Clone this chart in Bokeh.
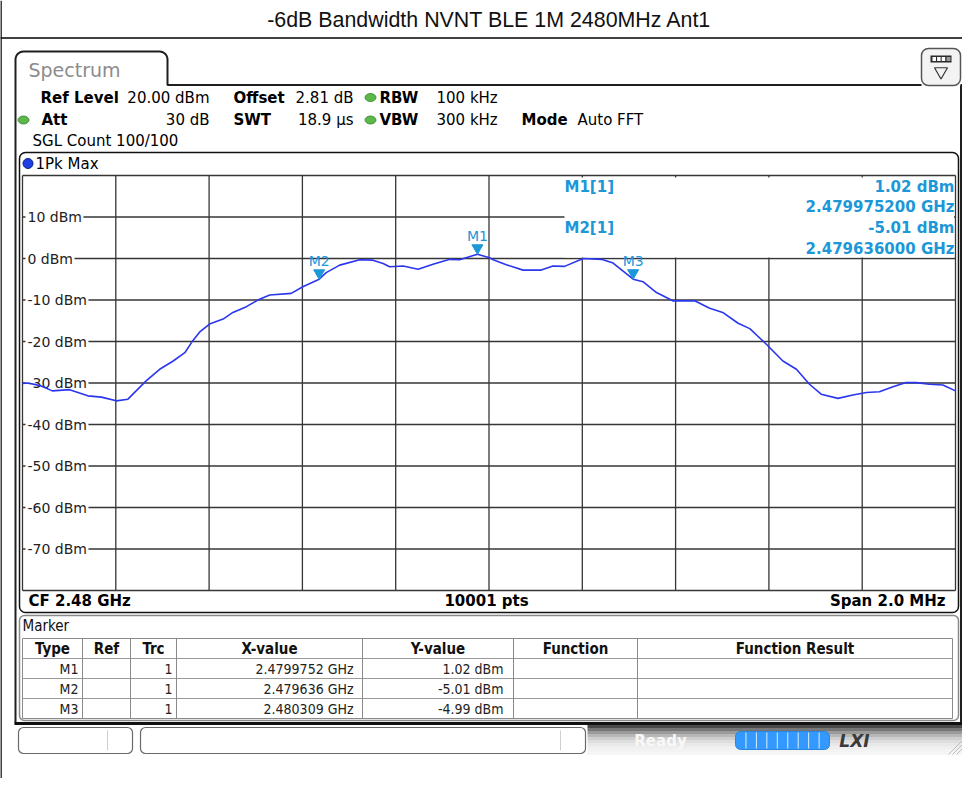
import numpy as np
from bokeh.plotting import figure
from bokeh.models import Range1d
from bokeh.core.properties import value
from bokeh.embed import file_html
from bokeh.resources import INLINE

# ------------------------------------------------------------------ data
chart_title = "-6dB Bandwidth NVNT BLE 1M 2480MHz Ant1"

freq_mhz = [2479.000, 2479.012, 2479.040, 2479.064, 2479.101, 2479.140, 2479.169,
            2479.201, 2479.226, 2479.265, 2479.294, 2479.323, 2479.348, 2479.365,
            2479.380, 2479.401, 2479.430, 2479.451, 2479.480, 2479.508, 2479.530,
            2479.576, 2479.601, 2479.636, 2479.651, 2479.680, 2479.723, 2479.751,
            2479.773, 2479.787, 2479.816, 2479.848, 2479.880, 2479.916, 2479.937,
            2479.9752, 2480.001, 2480.009, 2480.037, 2480.073, 2480.112, 2480.137,
            2480.162, 2480.202, 2480.241, 2480.266, 2480.309, 2480.330, 2480.359,
            2480.394, 2480.441, 2480.473, 2480.501, 2480.534, 2480.559, 2480.594,
            2480.630, 2480.659, 2480.687, 2480.712, 2480.748, 2480.780, 2480.809,
            2480.837, 2480.866, 2480.894, 2480.916, 2480.944, 2480.973, 2481.000]
level_dbm = [-30.1, -30.0, -30.7, -31.9, -31.6, -33.1, -33.4,
             -34.3, -33.9, -29.5, -26.7, -24.7, -22.7, -19.8,
             -17.7, -15.8, -14.6, -13.0, -11.6, -9.8, -8.8,
             -8.4, -6.8, -5.01, -3.4, -1.6, -0.3, -0.4,
             -1.2, -2.0, -1.8, -2.6, -1.4, -0.2, -0.3,
             1.02, 0.2, -0.3, -1.5, -2.8, -2.8, -1.8,
             -1.9, 0.0, -0.2, -1.1, -4.99, -5.6, -8.2,
             -10.2, -10.2, -12.0, -13.0, -15.6, -16.9, -20.6,
             -24.7, -26.7, -30.3, -32.7, -33.7, -32.9, -32.3,
             -32.1, -30.9, -29.9, -29.9, -30.3, -30.5, -31.9]

marker_names = ["M1", "M2", "M3"]
marker_trc = ["1", "1", "1"]
marker_freq_ghz = [2.4799752, 2.479636, 2.480309]
marker_level_dbm = [1.02, -5.01, -4.99]

x_ticks = [2479.0, 2479.2, 2479.4, 2479.6, 2479.8, 2480.0,
           2480.2, 2480.4, 2480.6, 2480.8, 2481.0]
y_ticks = [20, 10, 0, -10, -20, -30, -40, -50, -60, -70, -80]
y_label_vals = [10, 0, -10, -20, -30, -40, -50, -60, -70]
y_tick_labels = ["10 dBm", "0 dBm", "-10 dBm", "-20 dBm", "-30 dBm",
                 "-40 dBm", "-50 dBm", "-60 dBm", "-70 dBm"]

table_headers = ["Type", "Ref", "Trc", "X-value", "Y-value", "Function", "Function Result"]

# ------------------------------------------------------------------ layout
W, H = 962, 778
X0, Y0 = 8, 8                       # page position of the canvas
GL, GR, GT, GB = 30, 963, 183, 598  # grid box on the page

F_LO, F_HI = x_ticks[0], x_ticks[-1]
L_HI, L_LO = y_ticks[0], y_ticks[-1]
dfx = (F_HI - F_LO) / (GR - GL)
dly = (L_HI - L_LO) / (GB - GT)

p = figure(width=W, height=H,
           x_range=Range1d(F_LO - (GL - X0) * dfx, F_HI + (X0 + W - GR) * dfx),
           y_range=Range1d(L_LO - (Y0 + H - GB) * dly, L_HI + (GT - Y0) * dly),
           x_axis_type=None, y_axis_type=None, toolbar_location=None,
           output_backend="svg", min_border=0, outline_line_color=None)
p.background_fill_color = "white"
p.border_fill_color = "white"
p.extra_x_ranges = {"px": Range1d(X0, X0 + W)}
p.extra_y_ranges = {"px": Range1d(Y0 + H, Y0)}
PX = dict(x_range_name="px", y_range_name="px")

UI = "DejaVu Sans"
COND = "DejaVu Sans Condensed"
MCOL = "#1c97d8"
TRACE = "#2a36ee"
GRID = "#363636"

DJ = {"0": .636, "1": .636, "2": .636, "3": .636, "4": .636, "5": .636, "6": .636,
      "7": .636, "8": .636, "9": .636, "-": .361, " ": .318, "d": .635, "B": .686, "m": .974}


def seg(x0, y0, x1, y1, color="#000", w=1.0):
    p.segment(x0=[x0], y0=[y0], x1=[x1], y1=[y1], line_color=color, line_width=w, **PX)


def rbox(x0, y0, x1, y1, fill="white", line=None, w=1.0, r=0):
    p.quad(left=[x0], right=[x1], top=[y0], bottom=[y1], fill_color=fill,
           line_color=line, line_width=w, border_radius=r, **PX)


def txt(x, y, s, size=15, bold=False, color="#000", align="left", font=UI, style=None):
    st = style if style else ("bold" if bold else "normal")
    p.text(x=[x], y=[y], text=[s], text_font=value(font), text_font_size=value(f"{size}px"),
           text_font_style=st, text_color=color, text_align=align,
           text_baseline="middle", **PX)


def arc(cx, cy, r, a0, a1, n=8):
    t = np.radians(np.linspace(a0, a1, n))
    return list(cx + r * np.cos(t)), list(cy + r * np.sin(t))


# ------------------------------------------------------------------ document frame + title
seg(8.5, 8, 8.5, 786, "#000", 1.5)
txt(497, 27, chart_title, size=21.4, font="Liberation Sans", color="#111", align="center")
seg(8, 45.5, 970, 45.5, "#000", 1.5)

# ------------------------------------------------------------------ instrument window frame
ax1, ay1 = arc(31, 67, 8, 180, 270)
ax2, ay2 = arc(167, 67, 8, 270, 360)
tab_x = [23, 23] + ax1 + ax2 + [175, 929]
tab_y = [731, 67] + ay1 + ay2 + [92.5, 92.5]
p.line(x=tab_x, y=tab_y, line_color="#1e1e1e", line_width=2, **PX)
seg(968, 92.5, 970, 92.5, "#1e1e1e", 2)
seg(968.5, 93, 968.5, 731, "#1e1e1e", 2)
txt(36, 77, "Spectrum", size=19, color="#8c8c8c")

# icon at top right
rbox(929, 56, 968, 93, fill="#f3f3f3", line="#555", w=1.5, r=7)
rbox(938, 63, 959, 70, fill="#2b2b2b")
for k in range(3):
    rbox(940 + 4.6 * k, 64.5, 943.5 + 4.6 * k, 68.5, fill="white")
rbox(954, 64.5, 958, 68.5, fill="#9a9a9a")
p.scatter(x=[948.5], y=[79], marker="inverted_triangle", size=13, fill_color=None,
          line_color="#333", line_width=1.2, **PX)

# settings block
def dot(x, y):
    p.ellipse(x=[x], y=[y], width=11, height=8, fill_color="#5cb84a",
              line_color="#2f7d2a", line_width=0.8, **PX)

r1, r2, r3 = 105, 127.5, 148
txt(48, r1, "Ref Level", bold=True)
txt(217, r1, "20.00 dBm", align="right")
txt(241, r1, "Offset", bold=True)
txt(361, r1, "2.81 dB", align="right")
dot(378, r1)
txt(387, r1, "RBW", bold=True)
txt(444, r1, "100 kHz")
dot(31, r2)
txt(49, r2, "Att", bold=True)
txt(217, r2, "30 dB", align="right")
txt(241, r2, "SWT", bold=True)
txt(361, r2, "18.9 µs", align="right")
dot(378, r2)
txt(387, r2, "VBW", bold=True)
txt(444, r2, "300 kHz")
txt(529, r2, "Mode", bold=True)
txt(585, r2, "Auto FFT")
txt(40, r3, "SGL Count 100/100")

# ------------------------------------------------------------------ diagram
rbox(27, 160, 966, 620, fill="white", line="#111", w=1.5, r=6)
p.scatter(x=[35.5], y=[171], marker="circle", size=10, fill_color="#1f3fe6",
          line_color="#0c1d7a", line_width=1, **PX)
txt(43, 171, "1Pk Max", size=15)

# grid (data coordinates)
n = len(x_ticks)
p.segment(x0=x_ticks, y0=[L_LO] * n, x1=x_ticks, y1=[L_HI] * n, line_color=GRID, line_width=1.3)
m = len(y_ticks)
p.segment(x0=[F_LO] * m, y0=y_ticks, x1=[F_HI] * m, y1=y_ticks, line_color=GRID, line_width=1.3)

# marker info area (covers grid)
rbox(572, 185, 961.5, 265, fill="white")

# y tick labels with white backing
widths = [14 * sum(DJ.get(c, .6) for c in s) for s in y_tick_labels]
p.quad(left=[33] * len(widths), right=[35 + w_ + 1.5 for w_ in widths],
       top=[v + 8 * dly for v in y_label_vals], bottom=[v - 8 * dly for v in y_label_vals],
       fill_color="white", line_color=None, x_range_name="px")
p.text(x=[35] * len(y_label_vals), y=y_label_vals, text=y_tick_labels,
       text_font=value(UI), text_font_size=value("14px"), text_color="#222",
       text_baseline="middle", x_range_name="px")

# trace
p.line(x=freq_mhz, y=level_dbm, line_color=TRACE, line_width=1.6)

# markers
marker_freq_mhz = [g * 1000 for g in marker_freq_ghz]
p.scatter(x=marker_freq_mhz, y=[v + 6.3 * dly for v in marker_level_dbm],
          marker="inverted_triangle", size=11, fill_color=MCOL, line_color=MCOL)
p.text(x=marker_freq_mhz, y=[v + 18.5 * dly for v in marker_level_dbm], text=marker_names,
       text_font=value(UI), text_font_size=value("14px"), text_color=MCOL,
       text_align="center", text_baseline="middle")

# marker info text
info_y = [(194, 214), (235.5, 256)]
for i in range(2):
    ya, yb = info_y[i]
    txt(572, ya, f"{marker_names[i]}[{marker_trc[i]}]", bold=True, color=MCOL)
    txt(962, ya, f"{marker_level_dbm[i]:.2f} dBm", bold=True, color=MCOL, align="right")
    txt(962, yb, f"{marker_freq_ghz[i]:.9f} GHz", bold=True, color=MCOL, align="right")

# footer of diagram
txt(36, 608, "CF 2.48 GHz", bold=True)
txt(494, 608, "10001 pts", bold=True, align="center")
txt(953, 608, "Span 2.0 MHz", bold=True, align="right")

# ------------------------------------------------------------------ marker table
rbox(27, 623, 966, 728, fill="white", line="#8a8a8a", w=1.5, r=5)
txt(30, 633, "Marker", size=15, font=COND, color="#111")
cols = [30, 90, 138, 184, 370, 521, 645, 960]
rbox(30, 646, 960, 726, fill="white", line="#8a8a8a", w=1)
for yy in [666, 686, 706]:
    seg(30, yy, 960, yy, "#9a9a9a", 1)
for cx in cols[1:-1]:
    seg(cx, 646, cx, 726, "#8a8a8a", 1)
for j, hname in enumerate(table_headers):
    txt((cols[j] + cols[j + 1]) / 2, 656, hname, size=15, bold=True, font=COND, align="center", color="#111")
row_y = [676, 696, 716]
for i in range(3):
    y = row_y[i]
    txt(86, y, marker_names[i], size=14, font=COND, align="right", color="#222")
    txt(180, y, marker_trc[i], size=14, font=COND, align="right", color="#222")
    xs = f"{marker_freq_ghz[i]:.7f}".rstrip("0")
    txt(361, y, f"{xs} GHz", size=14, font=COND, align="right", color="#222")
    txt(511, y, f"{marker_level_dbm[i]:.2f} dBm", size=14, font=COND, align="right", color="#222")

# ------------------------------------------------------------------ status bar
seg(22, 731, 970, 731, "#111", 3)
grays = ["#4a4a4a", "#777", "#9a9a9a", "#b8b8b8", "#cfcfcf", "#dedede", "#e8e8e8", "#efefef", "#f3f3f3", "#f6f6f6"]
for k, g in enumerate(grays):
    rbox(595, 732.5 + 3 * k, 970, 735.5 + 3 * k, fill=g)
rbox(26, 735, 140, 761, fill="white", line="#6a6a6a", w=1.2, r=5)
seg(115, 738, 115, 758, "#cfcfcf", 1)
rbox(148, 735, 593, 761, fill="white", line="#6a6a6a", w=1.2, r=5)
seg(568, 738, 568, 758, "#cfcfcf", 1)
txt(668, 748, "Ready", size=15, bold=True, color="#f8f8f8", align="center")
rbox(743, 739, 837, 757, fill="#3399ff", line="#2b86e0", w=1, r=5)
for k in range(1, 9):
    seg(743 + 10.45 * k, 740, 743 + 10.45 * k, 756, "#dbeeff", 1)
txt(862, 748, "LXI", size=17, font=UI, color="#3a3a3a", align="center", style="bold italic")
for k in range(3):
    seg(956 + 4 * k, 762, 970, 748 + 4 * k, "#bdbdbd", 1)

open("out.html", "w").write(file_html(p, INLINE))
